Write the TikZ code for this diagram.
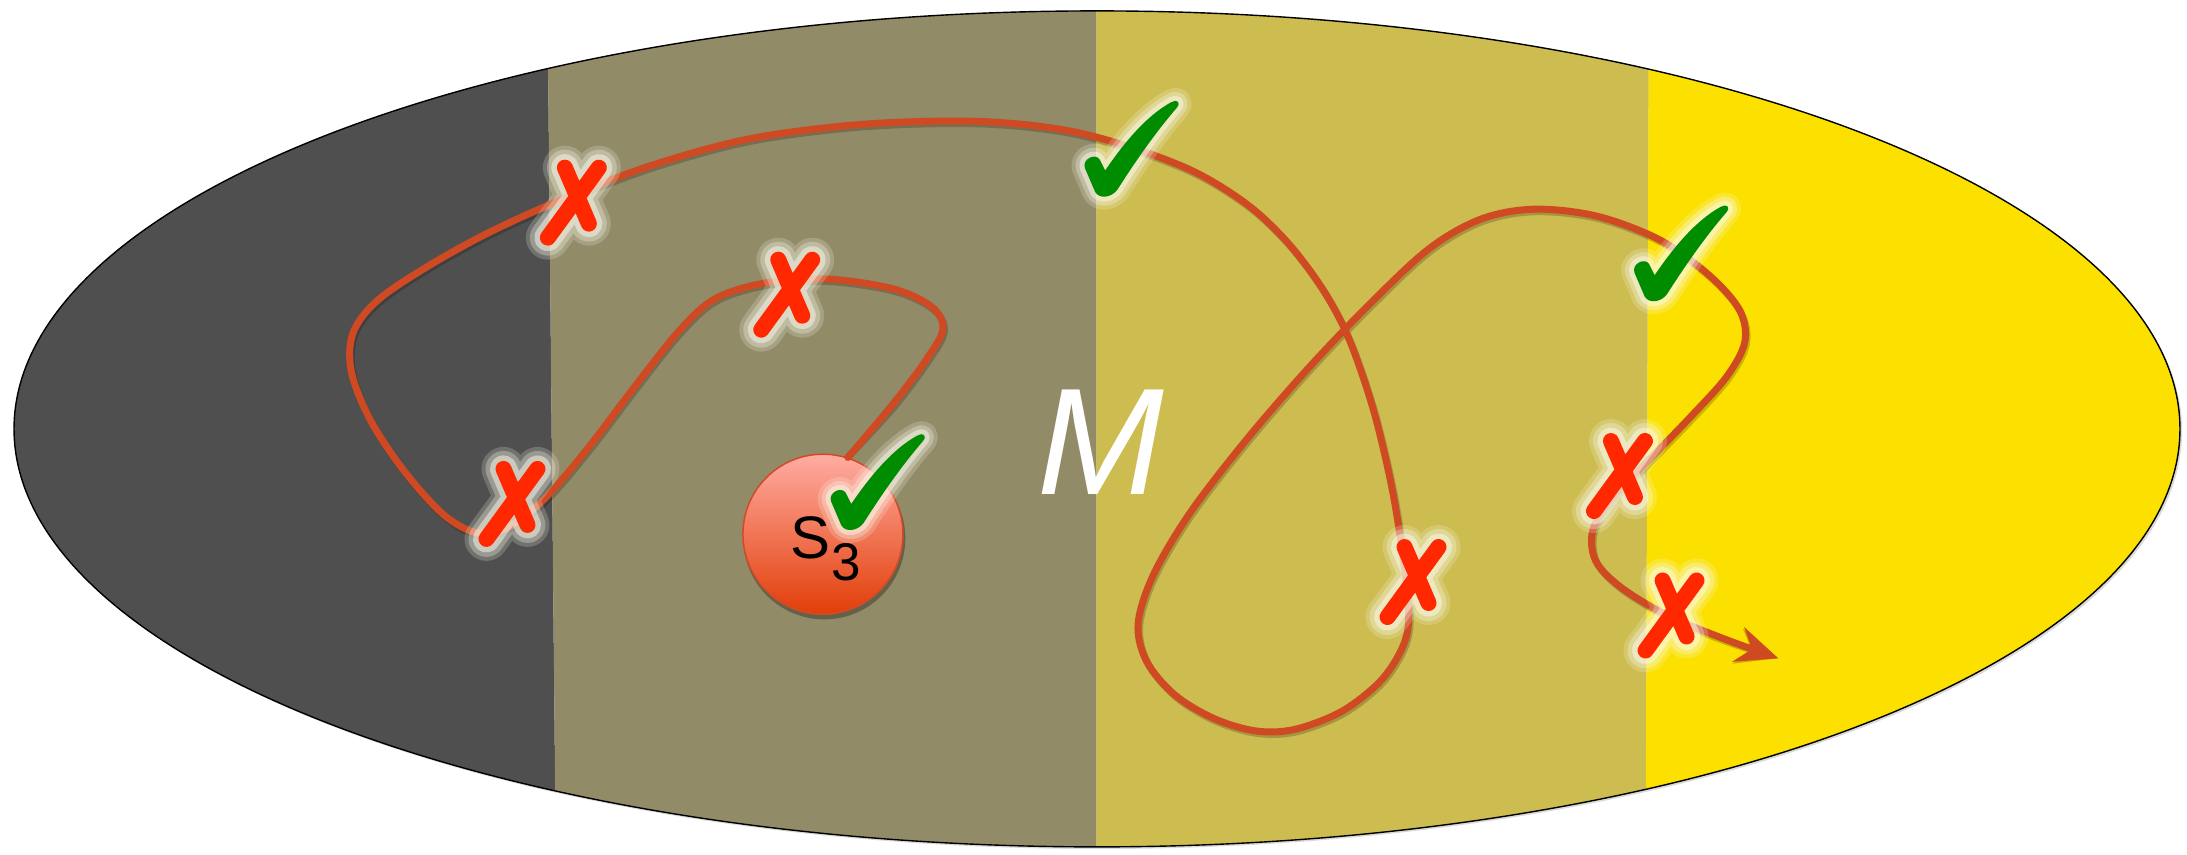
\documentclass[tikz,border=0pt]{standalone}
\usepackage{fontspec}
\setmainfont{Liberation Sans}
\usetikzlibrary{arrows.meta}
\definecolor{bandA}{RGB}{79,79,79}
\definecolor{bandB}{RGB}{146,139,104}
\definecolor{bandC}{RGB}{205,188,80}
\definecolor{bandD}{RGB}{252,225,0}
\definecolor{pathc}{RGB}{207,74,34}
\definecolor{xred}{RGB}{255,40,0}
\definecolor{cgreen}{RGB}{0,140,0}
\definecolor{glowc}{RGB}{250,250,235}
\definecolor{balltop}{RGB}{255,172,162}
\definecolor{ballbot}{RGB}{226,62,8}
\definecolor{ballrim}{RGB}{210,75,40}
\newcommand\XShape{(-24,34) -- (27,-36) (-7,-36) -- (17,20)}
\newcommand\ChkShape{(-27,9) -- (-22,19) .. controls (-5,-6) and (15,-30) .. (37,-42) .. controls (42,-45) and (46,-42) .. (42,-37) .. controls (22,-14) and (3,14) .. (-11,36) .. controls (-16,43) and (-27,45) .. (-31,38) -- (-40,17) .. controls (-43,9) and (-31,3) .. (-27,9) -- cycle}
\tikzset{
  curve/.style={pathc,line width=7pt,line cap=round,line join=round},
  curveshadow/.style={black,opacity=.2,line width=7pt,line cap=round,line join=round},
  xmk/.pic={
    \begin{scope}[x=1pt,y=-1pt,line cap=round,line join=round]
      \draw[glowc,opacity=.2,line width=44pt] \XShape;
      \draw[glowc,opacity=.3,line width=36pt] \XShape;
      \draw[glowc,opacity=.5,line width=27pt] \XShape;
      \draw[xred,line width=16pt] \XShape;
    \end{scope}
  },
  chk/.pic={
    \begin{scope}[x=1.12pt,y=-1.12pt,line cap=round,line join=round]
      \draw[glowc,opacity=.2,line width=26pt] \ChkShape;
      \draw[glowc,opacity=.3,line width=18pt] \ChkShape;
      \draw[glowc,opacity=.5,line width=10pt] \ChkShape;
      \fill[cgreen] \ChkShape;
    \end{scope}
  }
}
\begin{document}
\begin{tikzpicture}[x=1.3948pt,y=-1.3948pt]
\useasboundingbox (0,0) rectangle (1568,613);
\fill[white] (0,0) rectangle (1568,613);
% shadow of the ellipse
\fill[black,opacity=.15] (788,309) ellipse [x radius=1083pt, y radius=418pt];
\begin{scope}
  \clip (786.5,307.5) ellipse [x radius=1083pt, y radius=418pt];
  \fill[bandA] (0,0) -- (392.5,0) -- (398.5,613) -- (0,613) -- cycle;
  \fill[bandB] (392.5,0) -- (786,0) -- (786,613) -- (398.5,613) -- cycle;
  \fill[bandC] (786,0) -- (1182.2,0) -- (1179.8,613) -- (786,613) -- cycle;
  \fill[bandD] (1182.2,0) -- (1568,0) -- (1568,613) -- (1179.8,613) -- cycle;
\end{scope}
\draw[black,line width=1.4pt] (786.5,307.5) ellipse [x radius=1083pt, y radius=418pt];

\node[font=\fontsize{152}{152}\selectfont\itshape, text=white, anchor=base, inner sep=0pt] (mlabel) at (789,354.2) {M};

% ball
\fill[black,opacity=.3] (591,386) circle [radius=81pt];
\node[circle, minimum size=160pt, inner sep=0pt, top color=balltop, bottom color=ballbot, draw=ballrim, line width=1.5pt] (s3) at (590,383) {};
\node[anchor=base west, inner sep=0pt, font=\fontsize{60}{60}\selectfont] (s3label) at (566.4,400.1) {S\kern1pt\raisebox{-22pt}{\fontsize{53}{53}\selectfont 3}};

\coordinate (pend) at (1275,472);
\def\pathpts{(s3.72) (640,290) (664,258) (676,236) (668,220) (640,207) (592,200) (548,203) (513,214) (488,236) (456,276) (421,322) (390,358) (364,378) (342,382) (318,369) (290,338) (266,302) (252,267) (253,239) (270,216) (305,192) (352,166) (410,140) (472,117) (540,99) (620,89) (700,87) (762,93) (812,106) (858,124) (896,148) (925,176) (950,210) (968,245) (985,295) (998,350) (1006,400) (1010,440) (1006,463) (990,488) (962,510) (928,523) (900,524) (870,515) (842,498) (822,474) (816,447) (827,412) (853,368) (893,316) (938,264) (983,217) (1025,178) (1062,157) (1100,150) (1145,155) (1190,172) (1225,197) (1247,222) (1251,245) (1238,270) (1211,300) (1181,331) (1156,357) (1142,380) (1144,402) (1162,421) (1195,441) (1236,458) (pend)}
\begin{scope}[xshift=1.5pt,yshift=-2.5pt]
\draw[curveshadow,-{Stealth[length=42pt,width=36pt,inset=14pt]}] plot[smooth,tension=0.55] coordinates {\pathpts};
\end{scope}
\draw[curve,-{Stealth[length=42pt,width=36pt,inset=14pt]}] plot[smooth,tension=0.55] coordinates {\pathpts};

% marks
\pic at (410,146) {xmk};
\pic at (563,212) {xmk};
\pic at (366,362) {xmk};
\pic at (1012,418) {xmk};
\pic at (1160,342) {xmk};
\pic at (1197,442) {xmk};
\pic at (810,107) {chk};
\pic at (1204,182) {chk};
\pic at (628,346) {chk};
\end{tikzpicture}
\end{document}
